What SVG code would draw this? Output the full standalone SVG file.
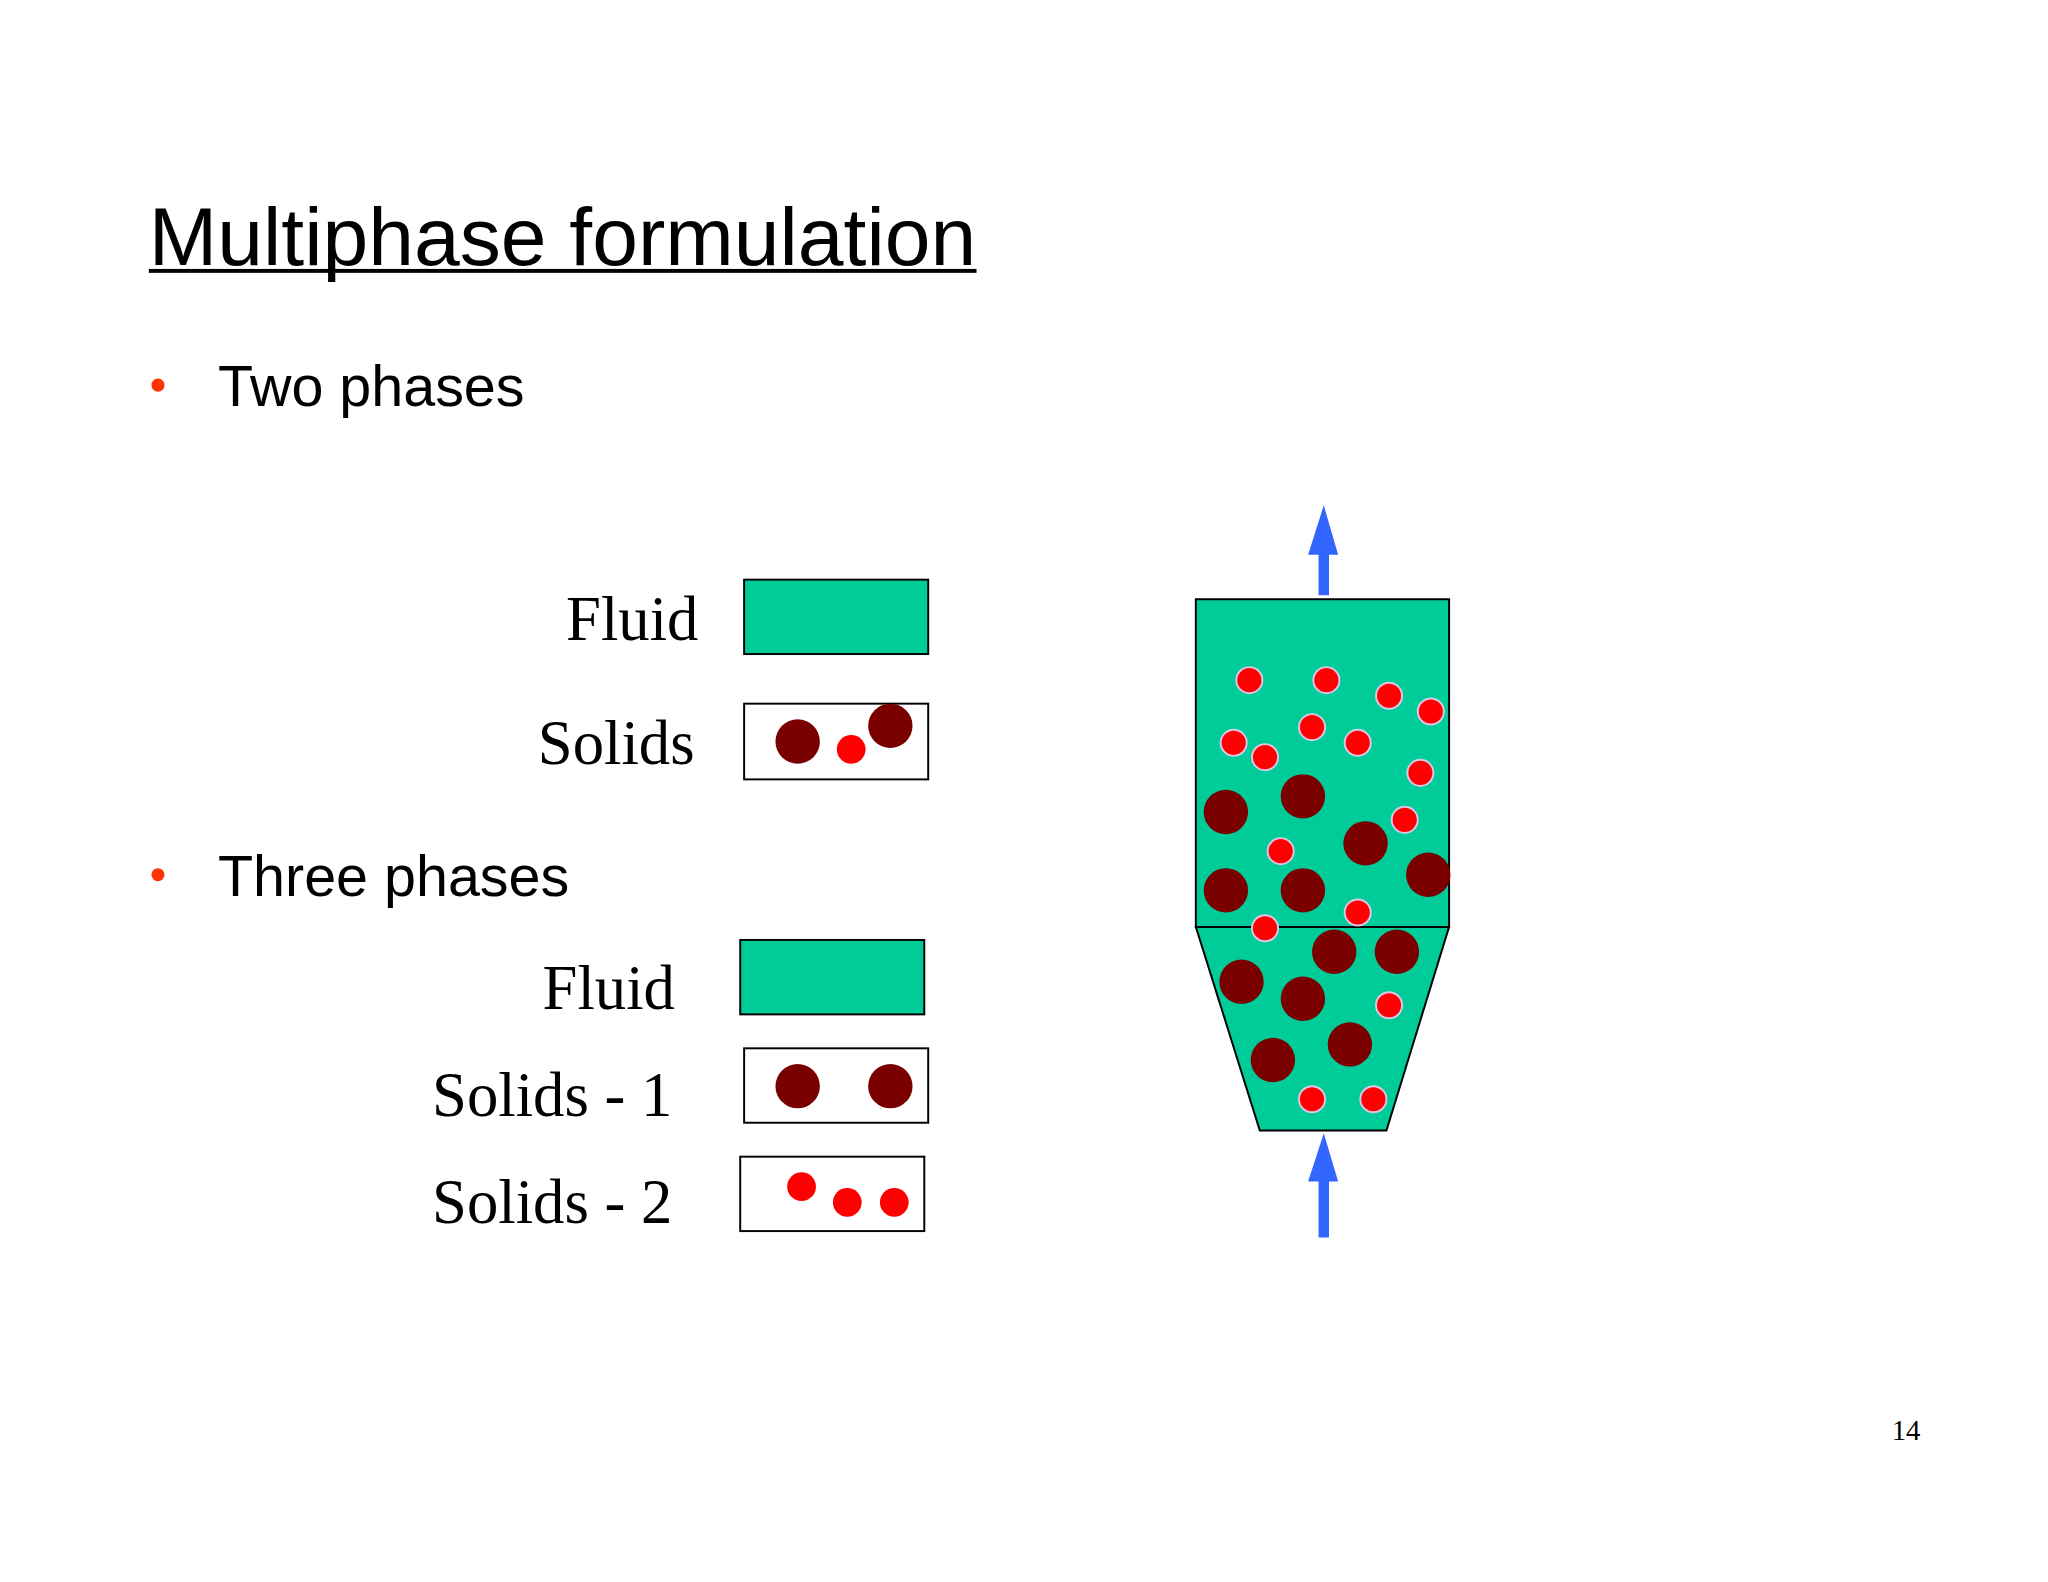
<svg xmlns="http://www.w3.org/2000/svg" width="2048" height="1582" viewBox="0 0 2048 1582">
<style>
.s{font-family:"Liberation Sans",Arial,sans-serif;fill:#000}
.t{font-family:"Liberation Serif","Times New Roman",serif;fill:#000}
.g{fill:#00cc99;stroke:#000;stroke-width:1.5}
.b{fill:#fff;stroke:#000;stroke-width:1.5}
.d{fill:#7a0000}
.r{fill:#ff0000}
.rs{fill:#ff0000;stroke:#d8c8e8;stroke-width:1.5}
.a{fill:#3366ff}
</style>
<rect width="2048" height="1582" fill="#fff"/>
<g transform="scale(1.3055)">
<g id="title"><text class="s" x="114" y="203" font-size="63">Multiphase formulation</text><rect x="114" y="206" width="634" height="3" fill="#000"/></g>
<g id="bullets">
<circle cx="121" cy="295" r="5" fill="#ff3300"/><text class="s" x="167" y="311" font-size="44">Two phases</text>
<circle cx="121" cy="670" r="5" fill="#ff3300"/><text class="s" x="167" y="686" font-size="44">Three phases</text>
</g>
<g id="legend2" font-size="48">
<text class="t" x="535" y="490" text-anchor="end">Fluid</text><rect class="g" x="570" y="444" width="141" height="57"/>
<text class="t" x="532" y="585" text-anchor="end">Solids</text><rect class="b" x="570" y="539" width="141" height="58"/>
<circle class="d" cx="611" cy="568" r="17"/><circle class="r" cx="652" cy="574" r="11"/><circle class="d" cx="682" cy="556" r="17"/>
</g>
<g id="legend3" font-size="48">
<text class="t" x="517" y="773" text-anchor="end">Fluid</text><rect class="g" x="567" y="720" width="141" height="57"/>
<text class="t" x="331" y="855">Solids - 1</text><rect class="b" x="570" y="803" width="141" height="57"/>
<circle class="d" cx="611" cy="832" r="17"/><circle class="d" cx="682" cy="832" r="17"/>
<text class="t" x="331" y="937">Solids - 2</text><rect class="b" x="567" y="886" width="141" height="57"/>
<circle class="r" cx="614" cy="909" r="11"/><circle class="r" cx="649" cy="921" r="11"/><circle class="r" cx="685" cy="921" r="11"/>
</g>
<g id="reactor">
<path class="g" d="M916 459H1110V710H916Z"/>
<path class="g" d="M916 710H1110L1062 866H965Z"/>
<g>
<circle class="d" cx="939" cy="622" r="17"/><circle class="d" cx="998" cy="610" r="17"/><circle class="d" cx="1046" cy="646" r="17"/><circle class="d" cx="1094" cy="670" r="17"/>
<circle class="d" cx="939" cy="682" r="17"/><circle class="d" cx="998" cy="682" r="17"/><circle class="d" cx="1022" cy="729" r="17"/><circle class="d" cx="1070" cy="729" r="17"/>
<circle class="d" cx="951" cy="752" r="17"/><circle class="d" cx="998" cy="765" r="17"/><circle class="d" cx="1034" cy="800" r="17"/><circle class="d" cx="975" cy="812" r="17"/>
</g>
<g>
<circle class="rs" cx="957" cy="521" r="10"/><circle class="rs" cx="1016" cy="521" r="10"/><circle class="rs" cx="1064" cy="533" r="10"/><circle class="rs" cx="1096" cy="545" r="10"/>
<circle class="rs" cx="1005" cy="557" r="10"/><circle class="rs" cx="945" cy="569" r="10"/><circle class="rs" cx="969" cy="580" r="10"/><circle class="rs" cx="1040" cy="569" r="10"/>
<circle class="rs" cx="1088" cy="592" r="10"/><circle class="rs" cx="1076" cy="628" r="10"/><circle class="rs" cx="981" cy="652" r="10"/><circle class="rs" cx="1040" cy="699" r="10"/>
<circle class="rs" cx="969" cy="711" r="10"/><circle class="rs" cx="1064" cy="770" r="10"/><circle class="rs" cx="1005" cy="842" r="10"/><circle class="rs" cx="1052" cy="842" r="10"/>
</g>
</g>
<g id="connectors">
<path class="a" d="M1014 387L1025 425H1018V456H1010V425H1002Z"/>
<path class="a" d="M1014 868L1025 905H1018V948H1010V905H1002Z"/>
</g>
<text class="t" x="1460" y="1103" font-size="22" text-anchor="middle">14</text>
</g>
</svg>
